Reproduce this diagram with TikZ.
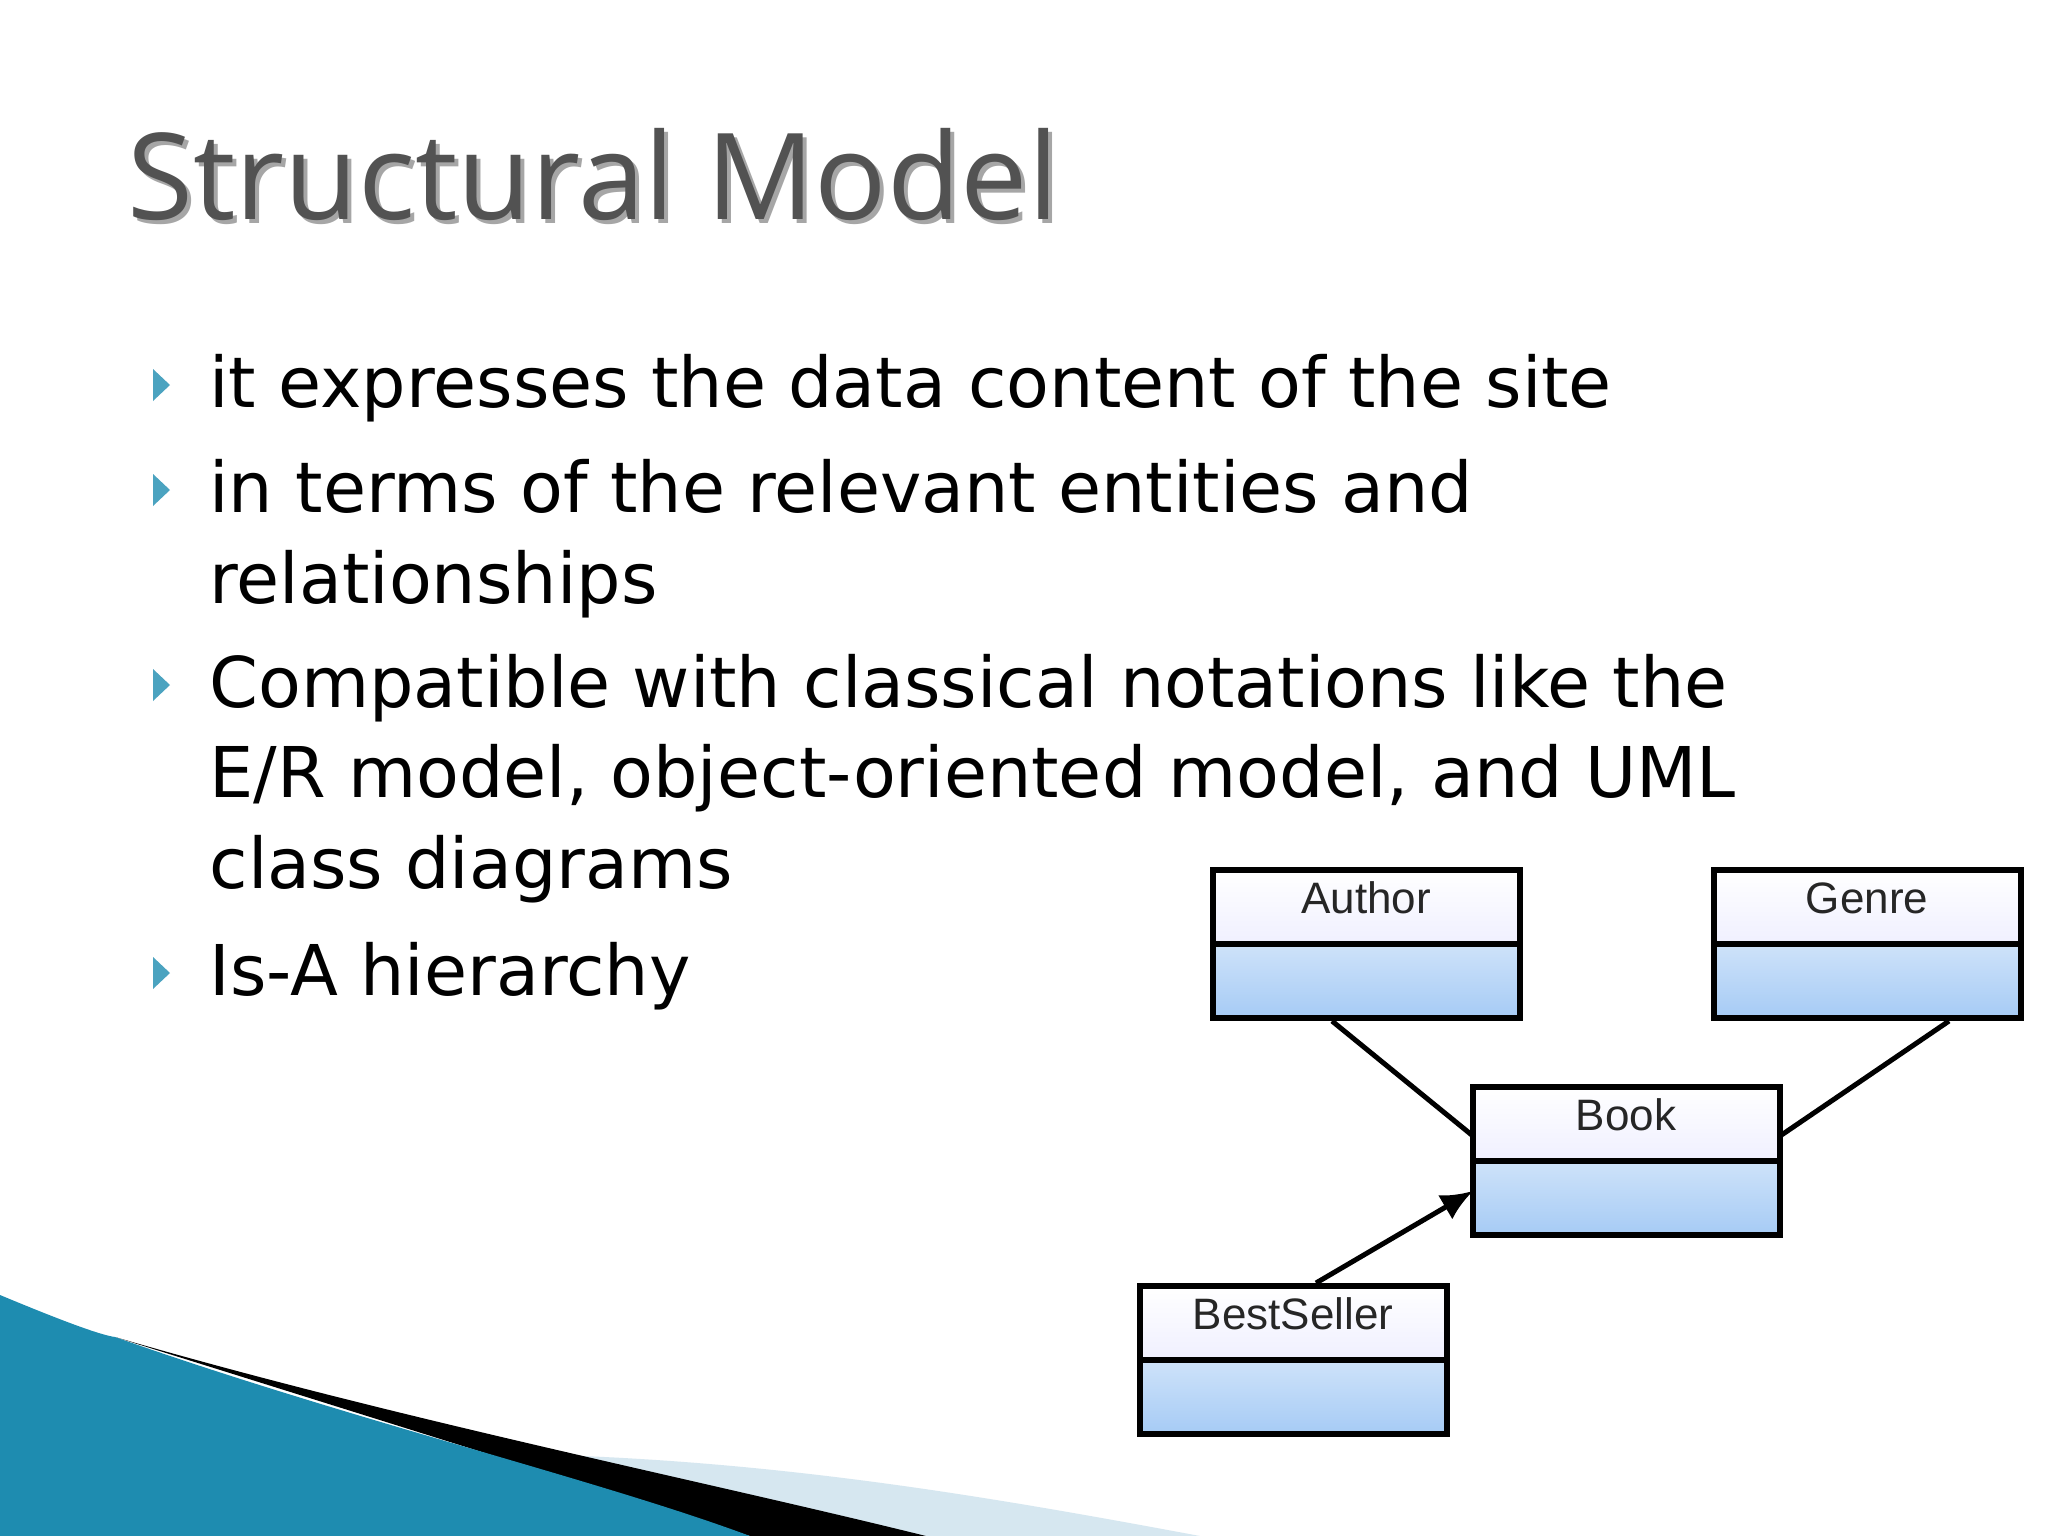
\documentclass[tikz,border=0pt]{standalone}
\usepackage{fontspec}
\usetikzlibrary{arrows.meta}
\setmainfont{DejaVu Sans}
\newfontfamily\titlefont{Open Sans}
\newfontfamily\uml{Liberation Sans}
\definecolor{teal1}{HTML}{1E8CB0}
\definecolor{umlblue}{HTML}{A6CBF5}
\definecolor{pale}{HTML}{D6E7F0}
\begin{document}
\begin{tikzpicture}[x=1pt,y=-1pt,
  cls/.style={draw=black,line width=6pt,minimum width=307pt,minimum height=74pt,inner sep=0pt},
  top/.style={cls,top color=white,bottom color=blue!6},
  bot/.style={cls,top color=umlblue!55,bottom color=umlblue},
  lbl/.style={font=\uml\fontsize{44}{50}\selectfont,text=black!85},
  bul/.style={anchor=base west,font=\fontsize{70}{84}\selectfont,text=black},
  tri/.style={fill=teal1!80}]
\useasboundingbox (0,0) rectangle (2048,1536);
\fill[white] (0,0) rectangle (2048,1536);
% swoosh
\fill[pale] (191,1465) .. controls (600,1430) and (900,1480) .. (1200,1536) -- (700,1536) -- cycle;
\fill[black] (115,1337) .. controls (400,1420) and (700,1480) .. (926,1536) -- (750,1536) -- cycle;
\fill[teal1] (0,1295) .. controls (60,1320) and (100,1335) .. (115,1337) .. controls (350,1420) and (600,1480) .. (750,1536) -- (0,1536) -- cycle;
% title
\node[anchor=base west,font=\titlefont\fontsize{120}{130}\selectfont,text=black!35] at (128,223) {Structural Model};
\node[anchor=base west,font=\titlefont\fontsize{120}{130}\selectfont,text=black!68] (title) at (124,219) {Structural Model};
% bullets
\foreach \y in {407,512,707,995}{\fill[tri] (153,\y-38) -- (153,\y-6) -- (170,\y-22) -- cycle;}
\node[bul] (b1) at (206,407) {it expresses the data content of the site};
\node[bul] (b2) at (206,512) {in terms of the relevant entities and};
\node[bul] (b3) at (206,603) {relationships};
\node[bul] (b4) at (206,707) {Compatible with classical notations like the};
\node[bul] (b5) at (206,797) {E/R model, object-oriented model, and UML};
\node[bul] (b6) at (206,888) {class diagrams};
\node[bul] (b7) at (206,995) {Is-A hierarchy};
% classes
\node[top] (authT) at (1366,907) {}; \node[bot] (authB) at (1366,981) {};
\node[lbl] at (1366,898) {Author};
\node[top] (genT) at (1867,907) {}; \node[bot] (genB) at (1867,981) {};
\node[lbl] at (1867,898) {Genre};
\node[top] (bookT) at (1626,1124) {}; \node[bot] (bookB) at (1626,1198) {};
\node[lbl] at (1626,1115) {Book};
\node[top] (bsT) at (1293,1323) {}; \node[bot] (bsB) at (1293,1397) {};
\node[lbl] at (1293,1314) {BestSeller};
\coordinate (bl) at (1473,1136);
\coordinate (br) at (1780,1136);
\coordinate (ba) at (1473,1191);
\draw[line width=5pt] (authB.south) ++(-34,0) coordinate (a1) -- (bl);
\draw[line width=5pt] (genB.south) ++(82,0) coordinate (g1) -- (br);
\draw[line width=5pt,-{Latex[length=32pt,width=28pt]}] (bsT.north) ++(23,0) -- (ba);
\end{tikzpicture}
\end{document}
